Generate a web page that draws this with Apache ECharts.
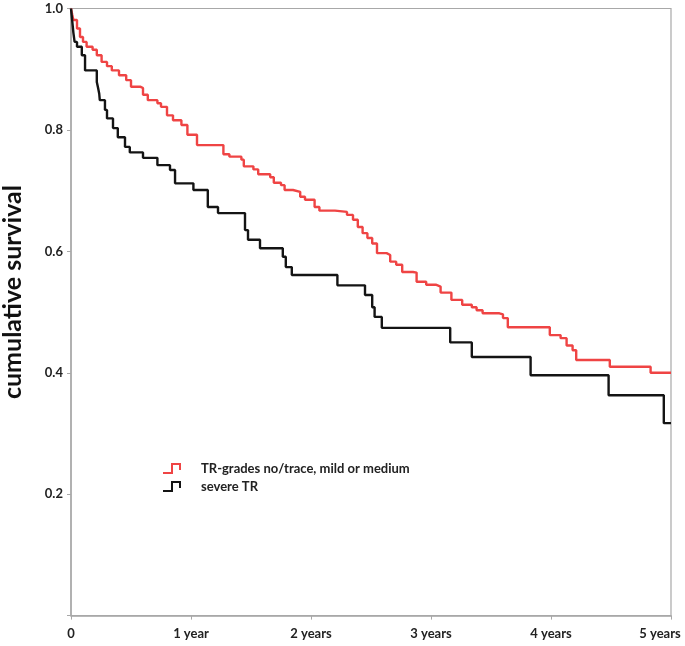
<!DOCTYPE html>
<html>
<head>
<meta charset="utf-8">
<script src="https://cdn.jsdelivr.net/npm/echarts@6/dist/echarts.min.js"></script>
<style>
  html, body { margin: 0; padding: 0; background: #fff; }
  #chart { width: 685px; height: 646px; }
</style>
</head>
<body>
<div id="chart"></div>
<script>
// ---- data (time in years, cumulative survival after each event) ----
const seriesNames = ['TR-grades no/trace, mild or medium', 'severe TR'];

const redTimes = [0, 0.01, 0.02, 0.05, 0.075, 0.10, 0.13, 0.18, 0.215, 0.255, 0.30, 0.34, 0.40, 0.46, 0.50,
  0.58, 0.60, 0.64, 0.72, 0.75, 0.80, 0.85, 0.92, 0.97, 1.05, 1.27, 1.32, 1.42, 1.44, 1.52, 1.56, 1.66,
  1.69, 1.75, 1.78, 1.85, 1.91, 1.95, 2.03, 2.07, 2.20, 2.30, 2.35, 2.39, 2.43, 2.47, 2.51, 2.55, 2.63,
  2.66, 2.71, 2.76, 2.85, 2.88, 2.96, 3.04, 3.08, 3.17, 3.26, 3.34, 3.38, 3.43, 3.57, 3.60, 3.64, 3.99,
  4.08, 4.13, 4.18, 4.21, 4.49, 4.83, 5.0];
const redSurvival = [1.0, 0.99, 0.981, 0.967, 0.953, 0.945, 0.937, 0.932, 0.923, 0.912, 0.905, 0.898, 0.890, 0.882, 0.871,
  0.869, 0.858, 0.849, 0.844, 0.838, 0.824, 0.816, 0.808, 0.792, 0.775, 0.760, 0.756, 0.751, 0.740, 0.735, 0.727, 0.722,
  0.713, 0.709, 0.701, 0.698, 0.690, 0.685, 0.673, 0.667, 0.665, 0.660, 0.652, 0.640, 0.630, 0.622, 0.613, 0.597, 0.594,
  0.583, 0.578, 0.566, 0.565, 0.550, 0.545, 0.542, 0.532, 0.520, 0.512, 0.508, 0.503, 0.498, 0.496, 0.490, 0.475, 0.462,
  0.457, 0.445, 0.437, 0.421, 0.410, 0.400, 0.400];

const blackTimes = [0, 0.01, 0.02, 0.03, 0.05, 0.09, 0.117, 0.215, 0.225, 0.235, 0.24, 0.283, 0.30, 0.35, 0.39, 0.45,
  0.49, 0.60, 0.72, 0.825, 0.867, 1.02, 1.14, 1.225, 1.45, 1.475, 1.575, 1.765, 1.79, 1.84, 2.22, 2.45, 2.51,
  2.53, 2.59, 3.16, 3.34, 3.83, 4.48, 4.94, 5.0];
const blackSurvival = [1.0, 0.98, 0.96, 0.945, 0.937, 0.923, 0.898, 0.879, 0.870, 0.860, 0.849, 0.833, 0.819, 0.803, 0.788, 0.772,
  0.763, 0.754, 0.742, 0.734, 0.712, 0.701, 0.673, 0.663, 0.635, 0.619, 0.605, 0.591, 0.574, 0.561, 0.544, 0.528, 0.508,
  0.492, 0.474, 0.450, 0.426, 0.396, 0.363, 0.317, 0.317];

const xTickLabels = ['0', '1 year', '2 years', '3 years', '4 years', '5 years'];
const yTickValues = [0.2, 0.4, 0.6, 0.8, 1.0];

const seriesColors = ['#ef4444', '#141414'];

// ---- build ----
function pairs(ts, ss) { return ts.map((t, i) => [t, ss[i]]); }

const chart = echarts.init(document.getElementById('chart'), null, { renderer: 'canvas' });
const FONT = 'Lato, "Open Sans", "Liberation Sans", sans-serif';
const stepIcon = 'path://M0,10 L9,10 L9,1 L17,1 L17,7';

chart.setOption({
  animation: false,
  backgroundColor: '#fff',
  textStyle: { fontFamily: FONT },
  grid: {
    left: 71, right: 14, top: 8.5, bottom: 30.4,
    outerBoundsMode: 'none', containLabel: false,
    show: true, borderColor: '#a8a8a8', borderWidth: 1.2, backgroundColor: 'transparent'
  },
  legend: {
    orient: 'vertical',
    left: 157, top: 457,
    padding: 5,
    itemWidth: 17, itemHeight: 10, itemGap: 5,
    icon: stepIcon,
    formatter: function (name) { return '{s|}{n|' + name + '}'; },
    textStyle: {
      fontFamily: FONT, fontSize: 13, fontWeight: 'bold', color: '#222',
      rich: {
        s: { width: 16, height: 10 },
        n: { fontFamily: FONT, fontSize: 13, fontWeight: 'bold', color: '#222' }
      }
    },
    data: seriesNames.map((n, i) => ({
      name: n,
      icon: stepIcon,
      itemStyle: { color: 'rgba(0,0,0,0)', borderColor: seriesColors[i], borderWidth: 2 }
    }))
  },
  xAxis: {
    type: 'value', min: 0, max: 5, interval: 1,
    axisLine: { show: true, lineStyle: { color: '#a8a8a8', width: 1.5 } },
    axisTick: { show: true, length: 4, lineStyle: { color: '#a8a8a8' } },
    splitLine: { show: false },
    axisLabel: {
      margin: 12,
      fontFamily: FONT, fontSize: 13, fontWeight: 'bold', color: '#222',
      formatter: function (v) {
        const lbl = xTickLabels[Math.round(v)];
        return Math.round(v) === 5 ? '{last|' + lbl + '}' : lbl;
      },
      rich: { last: { fontFamily: FONT, fontSize: 13, fontWeight: 'bold', color: '#222', padding: [0, 22, 0, 0] } }
    }
  },
  yAxis: {
    type: 'value', min: 0, max: 1, interval: 0.2,
    name: 'cumulative survival', nameLocation: 'middle', nameGap: 46,
    nameTextStyle: { fontFamily: FONT, fontSize: 25, fontWeight: 'bold', color: '#111', padding: [0, 0, 0, 40] },
    axisLine: { show: true, lineStyle: { color: '#a8a8a8', width: 1.5 } },
    axisTick: { show: true, length: 4, lineStyle: { color: '#a8a8a8' } },
    splitLine: { show: false },
    axisLabel: {
      margin: 8,
      fontFamily: FONT, fontSize: 13, fontWeight: 'bold', color: '#222',
      formatter: function (v) {
        return yTickValues.some(t => Math.abs(t - v) < 1e-6) ? v.toFixed(1) : '';
      }
    }
  },
  series: [
    {
      name: seriesNames[0], type: 'line', step: 'end', showSymbol: false, symbol: 'none',
      data: pairs(redTimes, redSurvival),
      color: seriesColors[0],
      lineStyle: { color: seriesColors[0], width: 2.4 },
      z: 3
    },
    {
      name: seriesNames[1], type: 'line', step: 'end', showSymbol: false, symbol: 'none',
      data: pairs(blackTimes, blackSurvival),
      color: seriesColors[1],
      lineStyle: { color: seriesColors[1], width: 2.4 },
      z: 4
    }
  ]
});
</script>
</body>
</html>
